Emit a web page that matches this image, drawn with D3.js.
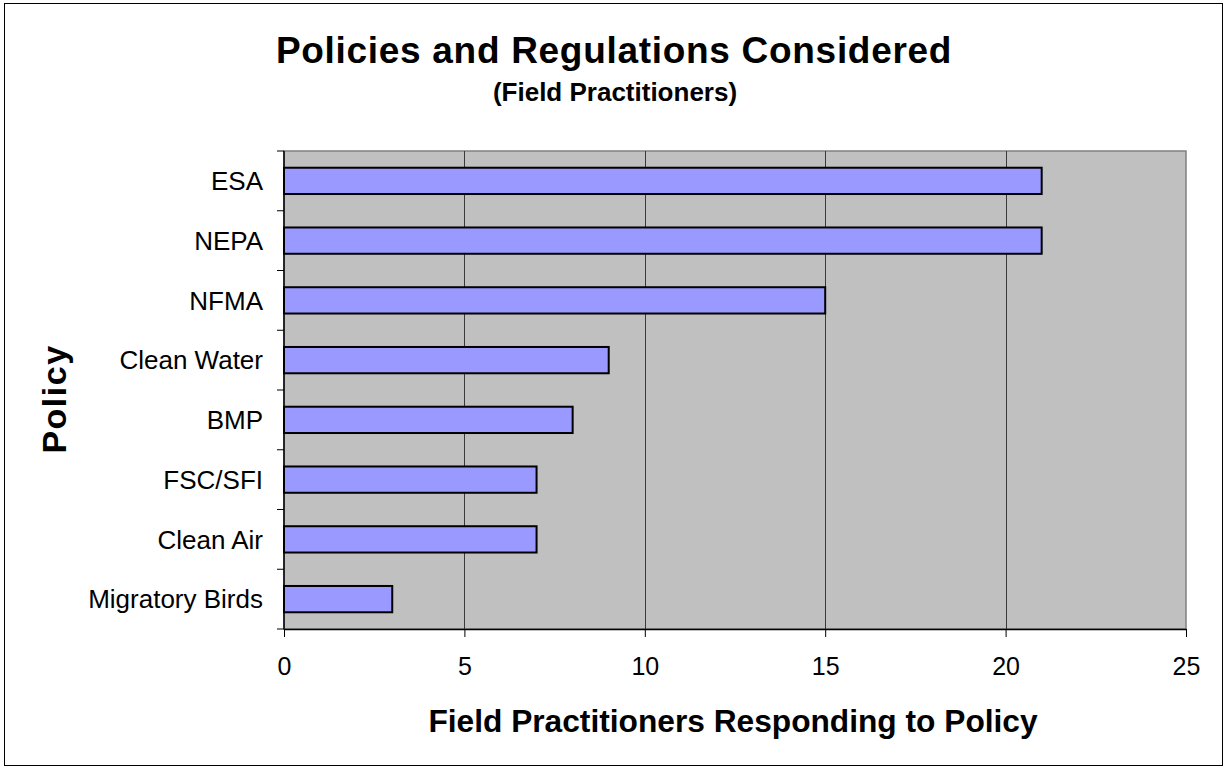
<!DOCTYPE html>
<html>
<head>
<meta charset="utf-8">
<script src="https://cdn.jsdelivr.net/npm/d3@7"></script>
<style>
  body { margin: 0; background: #fff; }
  svg { display: block; font-family: Arial, "Liberation Sans", sans-serif; }
</style>
</head>
<body>
<div id="chart"></div>
<script>
// chart data
const policies = ["ESA", "NEPA", "NFMA", "Clean Water", "BMP", "FSC/SFI", "Clean Air", "Migratory Birds"]
const responses = [21, 21, 15, 9, 8, 7, 7, 3]
const xTicks = [0, 5, 10, 15, 20, 25]

const width = 1231,
  height = 770

const plot = { left: 284, top: 151, right: 1186, bottom: 629 }

let svg = d3.select("#chart").append("svg")
  .attr("width", width)
  .attr("height", height)

// outer chart frame
svg.append("rect")
  .attr("x", 4.5).attr("y", 3.5)
  .attr("width", 1218).attr("height", 762)
  .attr("fill", "#fff")
  .attr("stroke", "#000")
  .attr("stroke-width", 1)

let x = d3.scaleLinear()
  .domain([0, 25])
  .range([plot.left, plot.right])

let y = d3.scaleBand()
  .domain(policies)
  .range([plot.top, plot.bottom])

// plot background
svg.append("rect")
  .attr("x", plot.left).attr("y", plot.top)
  .attr("width", plot.right - plot.left)
  .attr("height", plot.bottom - plot.top)
  .attr("fill", "#c0c0c0")
  .attr("stroke", "#808080")
  .attr("stroke-width", 1.5)

// vertical gridlines
svg.append("g")
  .selectAll("line")
  .data(xTicks.slice(1, -1))
  .enter().append("line")
  .attr("x1", d => Math.round(x(d)) + 0.5)
  .attr("x2", d => Math.round(x(d)) + 0.5)
  .attr("y1", plot.top)
  .attr("y2", plot.bottom)
  .attr("stroke", "#3a3a3a")
  .attr("stroke-width", 1)

// bars
let barH = y.bandwidth() * 0.44
svg.append("g")
  .selectAll("rect")
  .data(policies)
  .enter().append("rect")
  .attr("x", x(0))
  .attr("y", d => y(d) + (y.bandwidth() - barH) / 2)
  .attr("width", (d, i) => x(responses[i]) - x(0))
  .attr("height", barH)
  .attr("fill", "#9999ff")
  .attr("stroke", "#000")
  .attr("stroke-width", 2)

// y axis: ticks at band edges
let yAxis = svg.append("g")
yAxis.append("line")
  .attr("x1", plot.left).attr("x2", plot.left)
  .attr("y1", plot.top).attr("y2", plot.bottom)
  .attr("stroke", "#000").attr("stroke-width", 1.5)
let edges = policies.map(d => y(d)).concat([plot.bottom])
yAxis.selectAll(".tick")
  .data(edges)
  .enter().append("line")
  .attr("x1", plot.left - 7).attr("x2", plot.left)
  .attr("y1", d => d).attr("y2", d => d)
  .attr("stroke", "#000").attr("stroke-width", 1)
yAxis.selectAll("text")
  .data(policies)
  .enter().append("text")
  .attr("x", plot.left - 21)
  .attr("y", d => y(d) + y.bandwidth() / 2)
  .attr("dy", "0.36em")
  .attr("text-anchor", "end")
  .attr("font-size", 26)
  .text(d => d)

// x axis
let xAxis = svg.append("g")
  .attr("transform", `translate(0,${plot.bottom})`)
  .call(d3.axisBottom(x).tickValues(xTicks).tickSize(8).tickPadding(20).tickSizeOuter(0))
xAxis.select(".domain").attr("stroke", "#000").attr("stroke-width", 1.5)
xAxis.selectAll("text").attr("font-size", 25).attr("font-family", "Arial, 'Liberation Sans', sans-serif").attr("fill", "#000")

// titles
svg.append("text")
  .attr("x", 614).attr("y", 63)
  .attr("text-anchor", "middle")
  .attr("font-size", 37).attr("font-weight", "bold")
  .attr("letter-spacing", 0.7)
  .text("Policies and Regulations Considered")

svg.append("text")
  .attr("x", 615).attr("y", 101)
  .attr("text-anchor", "middle")
  .attr("font-size", 26).attr("font-weight", "bold")
  .text("(Field Practitioners)")

svg.append("text")
  .attr("x", 733).attr("y", 732)
  .attr("text-anchor", "middle")
  .attr("font-size", 31.7).attr("font-weight", "bold")
  .text("Field Practitioners Responding to Policy")

svg.append("text")
  .attr("transform", "translate(66,399) rotate(-90)")
  .attr("text-anchor", "middle")
  .attr("font-size", 34).attr("font-weight", "bold")
  .attr("letter-spacing", 1.5)
  .text("Policy")
</script>
</body>
</html>
